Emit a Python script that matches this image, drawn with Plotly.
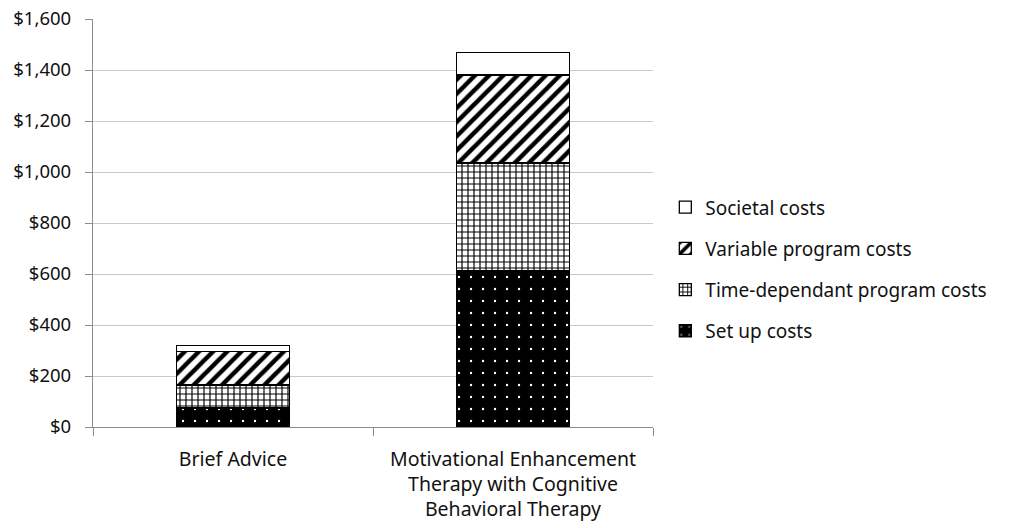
import plotly.graph_objects as go

categories = ["Brief Advice",
              "Motivational Enhancement<br>Therapy with Cognitive<br>Behavioral Therapy"]
setup_costs = [75, 615]
time_dependant_costs = [90, 420]
variable_costs = [130, 345]
societal_costs = [25, 88]
tick_vals = [0, 200, 400, 600, 800, 1000, 1200, 1400, 1600]
tick_text = ["$0", "$200", "$400", "$600", "$800", "$1,000", "$1,200", "$1,400", "$1,600"]

FONT = "Noto Sans"
line = dict(color="black", width=1.3)

fig = go.Figure()
fig.add_trace(go.Bar(
    x=categories, y=setup_costs, name="Set up costs", legendgroup="a", legendrank=4,
    marker=dict(color="black", line=line,
                pattern=dict(shape=".", bgcolor="black", fgcolor="white", fgopacity=1,
                             size=12, solidity=0.03, fillmode="replace")),
))
fig.add_trace(go.Bar(
    x=categories, y=time_dependant_costs, name="Time-dependant program costs", legendgroup="b",
    legendrank=3,
    marker=dict(color="white", line=line,
                pattern=dict(shape="+", bgcolor="white", fgcolor="black", fgopacity=1,
                             size=6, solidity=0.35, fillmode="replace")),
))
fig.add_trace(go.Bar(
    x=categories, y=variable_costs, name="Variable program costs", legendgroup="c", legendrank=2,
    marker=dict(color="white", line=line,
                pattern=dict(shape="/", bgcolor="white", fgcolor="black", fgopacity=1,
                             size=10, solidity=0.45, fillmode="replace")),
))
fig.add_trace(go.Bar(
    x=categories, y=societal_costs, name="Societal costs", legendgroup="d", legendrank=1,
    marker=dict(color="white", line=line),
))

fig.update_layout(
    width=1009, height=528,
    barmode="stack", bargap=0.595,
    paper_bgcolor="white", plot_bgcolor="white",
    margin=dict(l=93, r=356, t=19, b=101),
    font=dict(family=FONT, size=19, color="#222222"),
    showlegend=True,
    legend=dict(x=1.022, y=0.585, xanchor="left", yanchor="top",
                traceorder="grouped", tracegroupgap=13.5,
                font=dict(family=FONT, size=19, color="#111111"),
                itemwidth=30),
)
fig.update_xaxes(
    showline=True, linecolor="#8c8c8c", linewidth=1.3,
    ticks="outside", tickson="boundaries", ticklen=8, tickcolor="#8c8c8c",
    showgrid=False, ticklabelstandoff=14, automargin=False,
    tickfont=dict(family=FONT, size=19.5, color="#111111"),
)
fig.update_yaxes(
    range=[0, 1600], tickvals=tick_vals, ticktext=tick_text,
    showline=True, linecolor="#8c8c8c", linewidth=1.3,
    ticks="outside", ticklen=7, tickcolor="#8c8c8c",
    showgrid=True, gridcolor="#c8c8c8", gridwidth=1,
    zeroline=False, ticklabelstandoff=10, automargin=False,
    tickfont=dict(family=FONT, size=18.5, color="#111111"),
)

fig.write_html("out.html", config={"displayModeBar": False},
               post_script="document.body.style.margin='0';")
